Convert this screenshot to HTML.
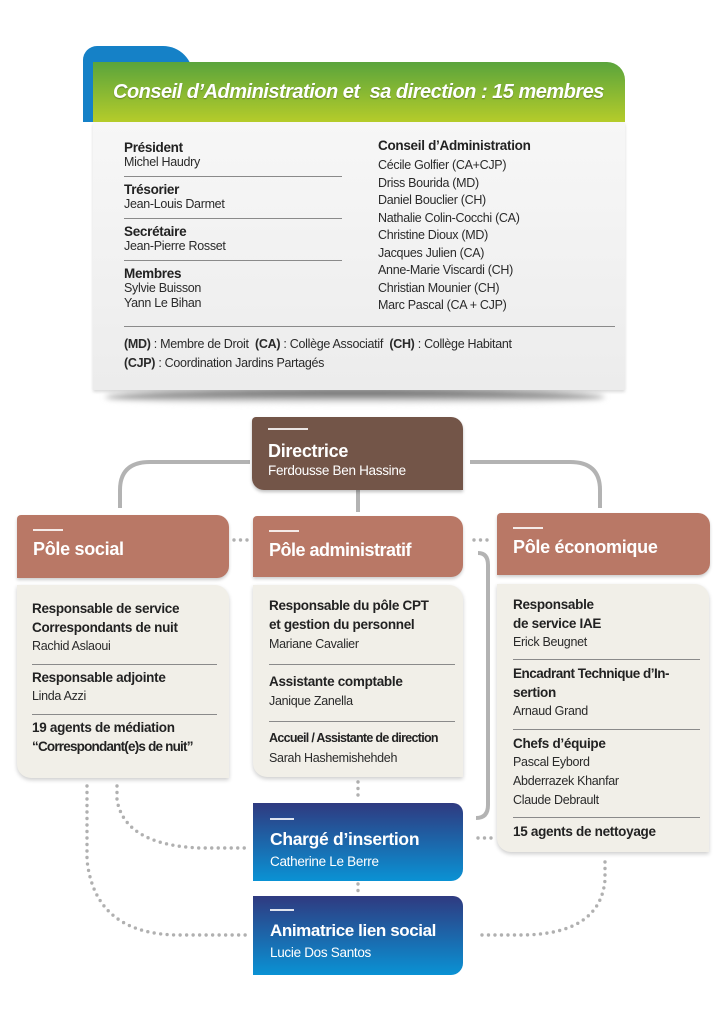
<!DOCTYPE html>
<html><head><meta charset="utf-8"><style>
*{margin:0;padding:0;box-sizing:border-box}
body{width:724px;height:1024px;background:#fff;position:relative;overflow:hidden;font-family:"Liberation Sans",sans-serif;color:#2a2a2a}
.a{position:absolute}
.t{position:absolute;white-space:nowrap;font-size:12.5px;line-height:15px;letter-spacing:-0.3px}
.b{font-weight:bold;font-size:13.5px;color:#222}
.hr{position:absolute;height:1px;background:#8a8a8a}
.w{color:#fff}
.dash{position:absolute;height:2px;width:38px;background:rgba(255,255,255,.85)}
.pole{position:absolute;background:#b97866;border-radius:4px 12px 12px 0;box-shadow:0 2px 3px rgba(0,0,0,.2)}
.card{position:absolute;background:#f1efe8;border-radius:0 14px 0 14px;box-shadow:0 2px 4px rgba(0,0,0,.2)}
.blue{position:absolute;background:linear-gradient(#2f3a80,#0a92d4);border-radius:0 10px 12px 0}
</style></head><body>
<!-- top card -->
<div class="a" style="left:83px;top:46px;width:110px;height:76px;background:#1581c7;border-radius:14px 30px 0 0"></div>
<div class="a" style="left:105px;top:390px;width:500px;height:14px;background:linear-gradient(#444,#fff);border-radius:50%;filter:blur(3px)"></div>
<div class="a" style="left:93px;top:122px;width:532px;height:268px;background:linear-gradient(#f7f7f7,#ececec);box-shadow:0 2px 3px rgba(0,0,0,.15)"></div>
<div class="a" style="left:93px;top:62px;width:532px;height:60px;background:linear-gradient(#5aa43c,#b5cc2a);border-radius:0 18px 0 0"></div>
<div class="t w" style="left:113px;top:80px;font-size:20px;line-height:24px;font-weight:bold;font-style:italic;letter-spacing:-0.5px;text-shadow:0 1px 1px rgba(0,0,0,.3)">Conseil d’Administration et&nbsp; sa direction : 15 membres</div>

<div class="t b" style="left:124px;top:140px">Président</div>
<div class="t" style="left:124px;top:155px">Michel Haudry</div>
<div class="hr" style="left:124px;top:176px;width:218px"></div>
<div class="t b" style="left:124px;top:182px">Trésorier</div>
<div class="t" style="left:124px;top:197px">Jean-Louis Darmet</div>
<div class="hr" style="left:124px;top:218px;width:218px"></div>
<div class="t b" style="left:124px;top:224px">Secrétaire</div>
<div class="t" style="left:124px;top:239px">Jean-Pierre Rosset</div>
<div class="hr" style="left:124px;top:260px;width:218px"></div>
<div class="t b" style="left:124px;top:266px">Membres</div>
<div class="t" style="left:124px;top:281px">Sylvie Buisson</div>
<div class="t" style="left:124px;top:296px">Yann Le Bihan</div>

<div class="t b" style="left:378px;top:138px">Conseil d’Administration</div>
<div class="t" style="left:378px;top:158px">Cécile Golfier (CA+CJP)</div>
<div class="t" style="left:378px;top:176px">Driss Bourida (MD)</div>
<div class="t" style="left:378px;top:193px">Daniel Bouclier (CH)</div>
<div class="t" style="left:378px;top:211px">Nathalie Colin-Cocchi (CA)</div>
<div class="t" style="left:378px;top:228px">Christine Dioux (MD)</div>
<div class="t" style="left:378px;top:246px">Jacques Julien (CA)</div>
<div class="t" style="left:378px;top:263px">Anne-Marie Viscardi (CH)</div>
<div class="t" style="left:378px;top:281px">Christian Mounier (CH)</div>
<div class="t" style="left:378px;top:298px">Marc Pascal (CA + CJP)</div>
<div class="hr" style="left:124px;top:326px;width:491px"></div>
<div class="t" style="left:124px;top:337px;font-size:12.5px"><b>(MD)</b> : Membre de Droit&nbsp; <b>(CA)</b> : Collège Associatif&nbsp; <b>(CH)</b> : Collège Habitant</div>
<div class="t" style="left:124px;top:356px;font-size:12.5px"><b>(CJP)</b> : Coordination Jardins Partagés</div>

<!-- connectors -->
<svg class="a" style="left:0;top:0" width="724" height="1024">
<g fill="none" stroke="#b3b3b3" stroke-width="4">
<path d="M250 462 H150 Q120 462 120 490 V508"/>
<path d="M470 462 H570 Q600 462 600 490 V508"/>
<path d="M358 490 V512"/>
<path d="M478 553 Q488 553 488 565 V805 Q488 818 476 818"/>
</g>
<g fill="none" stroke="#b0b0b0" stroke-width="3.4" stroke-linecap="round" stroke-dasharray="0 6.5">
<path d="M234 540 H250"/><path d="M474 540 H490"/>
<path d="M358 782 V800"/><path d="M358 884 V896"/>
<path d="M478 838 H492"/>
<path d="M117 786 V800 Q125 845 200 848 H248"/>
<path d="M87 786 V860 Q95 935 180 935 H248"/>
<path d="M605 862 V880 Q600 935 520 935 H478"/>
</g>
</svg>

<!-- directrice -->
<div class="a" style="left:252px;top:417px;width:211px;height:73px;background:#735548;border-radius:4px 12px 0 12px;box-shadow:0 2px 3px rgba(0,0,0,.25)"></div>
<div class="dash" style="left:268px;top:428px;width:40px"></div>
<div class="t w" style="left:268px;top:440px;font-size:18px;line-height:22px;font-weight:bold">Directrice</div>
<div class="t w" style="left:268px;top:463px;font-size:13.5px">Ferdousse Ben Hassine</div>

<!-- poles -->
<div class="pole" style="left:17px;top:515px;width:212px;height:63px"></div>
<div class="dash" style="left:33px;top:529px;width:30px"></div>
<div class="t w" style="left:33px;top:538px;font-size:18px;line-height:22px;font-weight:bold">Pôle social</div>
<div class="pole" style="left:253px;top:516px;width:210px;height:61px"></div>
<div class="dash" style="left:269px;top:530px;width:30px"></div>
<div class="t w" style="left:269px;top:539px;font-size:18px;line-height:22px;font-weight:bold;letter-spacing:-0.5px">Pôle administratif</div>
<div class="pole" style="left:497px;top:513px;width:213px;height:62px"></div>
<div class="dash" style="left:513px;top:527px;width:30px"></div>
<div class="t w" style="left:513px;top:536px;font-size:18px;line-height:22px;font-weight:bold">Pôle économique</div>

<!-- cards -->
<div class="card" style="left:17px;top:585px;width:212px;height:193px"></div>
<div class="t b" style="left:32px;top:601px">Responsable de service</div>
<div class="t b" style="left:32px;top:620px">Correspondants de nuit</div>
<div class="t" style="left:32px;top:639px">Rachid Aslaoui</div>
<div class="hr" style="left:32px;top:664px;width:185px"></div>
<div class="t b" style="left:32px;top:670px">Responsable adjointe</div>
<div class="t" style="left:32px;top:689px">Linda Azzi</div>
<div class="hr" style="left:32px;top:714px;width:185px"></div>
<div class="t b" style="left:32px;top:720px">19 agents de médiation</div>
<div class="t b" style="left:32px;top:739px;letter-spacing:-0.8px">“Correspondant(e)s de nuit”</div>

<div class="card" style="left:253px;top:585px;width:210px;height:192px"></div>
<div class="t b" style="left:269px;top:598px">Responsable du pôle CPT</div>
<div class="t b" style="left:269px;top:617px">et gestion du personnel</div>
<div class="t" style="left:269px;top:637px">Mariane Cavalier</div>
<div class="hr" style="left:269px;top:664px;width:186px"></div>
<div class="t b" style="left:269px;top:674px">Assistante comptable</div>
<div class="t" style="left:269px;top:694px">Janique Zanella</div>
<div class="hr" style="left:269px;top:721px;width:186px"></div>
<div class="t b" style="left:269px;top:731px;font-size:12.5px;letter-spacing:-0.7px">Accueil / Assistante de direction</div>
<div class="t" style="left:269px;top:751px">Sarah Hashemishehdeh</div>

<div class="card" style="left:497px;top:584px;width:212px;height:268px"></div>
<div class="t b" style="left:513px;top:597px">Responsable</div>
<div class="t b" style="left:513px;top:616px">de service IAE</div>
<div class="t" style="left:513px;top:635px">Erick Beugnet</div>
<div class="hr" style="left:513px;top:659px;width:187px"></div>
<div class="t b" style="left:513px;top:666px;letter-spacing:-0.5px">Encadrant Technique d’In-</div>
<div class="t b" style="left:513px;top:685px">sertion</div>
<div class="t" style="left:513px;top:704px">Arnaud Grand</div>
<div class="hr" style="left:513px;top:729px;width:187px"></div>
<div class="t b" style="left:513px;top:736px">Chefs d’équipe</div>
<div class="t" style="left:513px;top:755px">Pascal Eybord</div>
<div class="t" style="left:513px;top:774px">Abderrazek Khanfar</div>
<div class="t" style="left:513px;top:793px">Claude Debrault</div>
<div class="hr" style="left:513px;top:817px;width:187px"></div>
<div class="t b" style="left:513px;top:824px">15 agents de nettoyage</div>

<!-- blue -->
<div class="blue" style="left:253px;top:803px;width:210px;height:78px"></div>
<div class="dash" style="left:270px;top:818px;width:24px"></div>
<div class="t w" style="left:270px;top:828px;font-size:17.5px;line-height:22px;font-weight:bold">Chargé d’insertion</div>
<div class="t w" style="left:270px;top:854px;font-size:13.5px">Catherine Le Berre</div>
<div class="blue" style="left:253px;top:896px;width:210px;height:79px"></div>
<div class="dash" style="left:270px;top:909px;width:24px"></div>
<div class="t w" style="left:270px;top:920px;font-size:17px;line-height:22px;font-weight:bold;letter-spacing:-0.4px">Animatrice lien social</div>
<div class="t w" style="left:270px;top:945px;font-size:13.5px">Lucie Dos Santos</div>
</body></html>
